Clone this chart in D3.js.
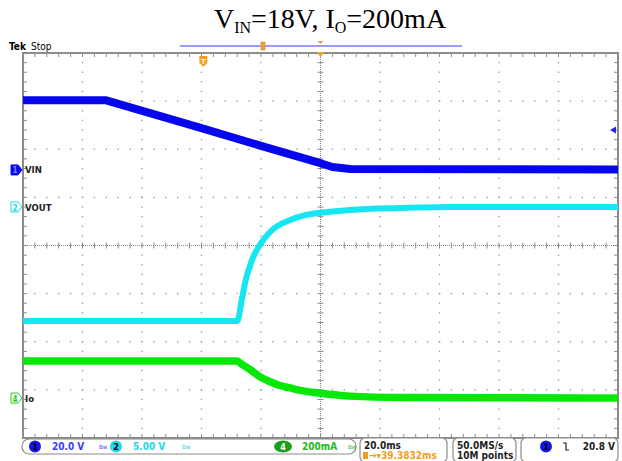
<!DOCTYPE html>
<html>
<head>
<meta charset="utf-8">
<script src="https://cdn.jsdelivr.net/npm/d3@7"></script>
<style>
  body { margin: 0; background: #fff; }
  svg { display: block; }
  text { font-family: "DejaVu Sans Condensed", "DejaVu Sans", sans-serif; }
</style>
</head>
<body>
<div class="scope"></div>
<script>
// time in ms (20 ms/div), level in screen divisions
const vinT  = [-100, -72.3, -40, -20, 0, 4, 10, 100];
const vinV  = [3.02, 3.02, 2.44, 2.07, 1.71, 1.63, 1.59, 1.58];
const voutT = [-100, -28.0, -26.5, -25.3, -23.0, -19.3, -16.3, -10.2, -5.2, 3.3, 10, 26.8, 43.6, 100];
const voutV = [-1.57, -1.57, -1.14, -0.76, -0.30, 0.11, 0.32, 0.53, 0.63, 0.70, 0.74, 0.78, 0.80, 0.80];
const ioT   = [-100, -28.0, -26.6, -23.6, -20.3, -16.9, -13.6, -10.2, -6.8, 0, 10, 26.8, 100];
const ioV   = [-2.40, -2.40, -2.46, -2.58, -2.73, -2.83, -2.91, -2.96, -3.01, -3.07, -3.13, -3.16, -3.17];

const channels = [
  {id: "1", name: "VIN",  level: 1.57,  color: "#0a0af0", filled: true},
  {id: "2", name: "VOUT", level: 0.80,  color: "#18d8e8", filled: false},
  {id: "4", name: "Io",   level: -3.17, color: "#22cc22", filled: false}
];
const trigLevel = 2.40;
const trigPos = -39.38;

const width = 622, height = 461;
const pLeft = 23, pRight = 618, pTop = 53, pBottom = 438;

const svg = d3.select('.scope')
  .append('svg')
  .attr('width', width)
  .attr('height', height);

const x = d3.scaleLinear().domain([-100, 100]).range([pLeft, pRight]);
const y = d3.scaleLinear().domain([-4, 4]).range([pBottom, pTop]);

// title
const title = svg.append('text')
  .attr('x', 330).attr('y', 28)
  .attr('text-anchor', 'middle')
  .style('font-family', '"Liberation Serif", serif')
  .attr('font-size', 28);
title.append('tspan').text('V');
title.append('tspan').attr('font-size', 16).attr('dy', 5).text('IN');
title.append('tspan').attr('dy', -5).text('=18V, I');
title.append('tspan').attr('font-size', 16).attr('dy', 5).text('O');
title.append('tspan').attr('dy', -5).text('=200mA');

// Tek Stop
svg.append('text').attr('x', 9).attr('y', 50).attr('font-size', 10)
  .attr('font-weight', 'bold').text('Tek');
svg.append('text').attr('x', 31).attr('y', 50).attr('font-size', 10).text('Stop');

// record bar
svg.append('line').attr('x1', 180).attr('x2', 462).attr('y1', 46).attr('y2', 46)
  .attr('stroke', '#7878ff').attr('stroke-width', 1.5);
svg.append('rect').attr('x', 261).attr('y', 42).attr('width', 4).attr('height', 8)
  .attr('fill', '#f0a030').attr('stroke', '#d08010').attr('stroke-width', 0.5);
svg.append('path').attr('d', `M${x(0)-3},41 L${x(0)+3},41 L${x(0)},44 Z`).attr('fill', '#f0a030');

// grid dots
const majorT = d3.range(-80, 81, 20).filter(d => d !== 0);
const majorV = d3.range(-3, 4, 1).filter(d => d !== 0);
const minorT = d3.range(-100, 100.1, 4);
const minorV = d3.range(-4, 4.01, 0.2);
const dots = [];
majorT.forEach(t => minorV.forEach(v => dots.push([t, v])));
majorV.forEach(v => minorT.forEach(t => dots.push([t, v])));
svg.append('g').selectAll('rect')
  .data(dots)
  .enter()
  .append('rect')
  .attr('x', d => x(d[0]) - 0.7)
  .attr('y', d => y(d[1]) - 0.7)
  .attr('width', 1.4).attr('height', 1.4)
  .attr('fill', '#a0a0a0');

// center cross
const cross = svg.append('g').attr('stroke', '#8a8a8a').attr('stroke-width', 1);
cross.append('line').attr('x1', x(0)).attr('x2', x(0)).attr('y1', pTop).attr('y2', pBottom)
  .attr('stroke-dasharray', '1,1');
cross.append('line').attr('x1', pLeft).attr('x2', pRight).attr('y1', y(0)).attr('y2', y(0))
  .attr('stroke-dasharray', '1,1');
cross.selectAll('line.cv').data(minorV).enter().append('line').attr('class', 'cv')
  .attr('x1', x(0) - 3).attr('x2', x(0) + 3).attr('y1', d => y(d)).attr('y2', d => y(d));
cross.selectAll('line.ch').data(minorT).enter().append('line').attr('class', 'ch')
  .attr('x1', d => x(d)).attr('x2', d => x(d)).attr('y1', y(0) - 3).attr('y2', y(0) + 3);

// border with ticks
const border = svg.append('g').attr('stroke', '#8c8c8c');
border.append('rect').attr('x', pLeft).attr('y', pTop)
  .attr('width', pRight - pLeft).attr('height', pBottom - pTop)
  .attr('fill', 'none').attr('stroke-width', 2);
border.selectAll('line.bt').data(minorT).enter().append('line').attr('class', 'bt')
  .attr('x1', d => x(d)).attr('x2', d => x(d)).attr('y1', pTop).attr('y2', pTop + 4);
border.selectAll('line.bb').data(minorT).enter().append('line').attr('class', 'bb')
  .attr('x1', d => x(d)).attr('x2', d => x(d)).attr('y1', pBottom).attr('y2', pBottom - 4);
border.selectAll('line.bl').data(minorV).enter().append('line').attr('class', 'bl')
  .attr('x1', pLeft).attr('x2', pLeft + 4).attr('y1', d => y(d)).attr('y2', d => y(d));
border.selectAll('line.br').data(minorV).enter().append('line').attr('class', 'br')
  .attr('x1', pRight).attr('x2', pRight - 4).attr('y1', d => y(d)).attr('y2', d => y(d));

// expansion marker on top border
svg.append('path').attr('d', `M${x(0)-4},${pTop-1} L${x(0)+4},${pTop-1} L${x(0)},${pTop+4} Z`)
  .attr('fill', '#f0a030');

// traces
const traces = [
  {t: vinT, v: vinV, color: '#0505ee', w: 8, curve: d3.curveLinear},
  {t: voutT, v: voutV, color: '#14e6f2', w: 6, curve: d3.curveMonotoneX},
  {t: ioT, v: ioV, color: '#08e808', w: 7.5, curve: d3.curveMonotoneX}
];
svg.append('g').selectAll('path')
  .data(traces)
  .enter()
  .append('path')
  .attr('d', d => d3.line().x(p => x(p[0])).y(p => y(p[1])).curve(d.curve)(d.t.map((t, i) => [t, d.v[i]])))
  .attr('fill', 'none')
  .attr('stroke', d => d.color)
  .attr('stroke-width', d => d.w)
  .attr('stroke-linejoin', 'round');

// trigger position marker
const tp = x(trigPos);
svg.append('path')
  .attr('d', `M${tp-4},56 L${tp+4},56 L${tp+4},63 L${tp},67 L${tp-4},63 Z`)
  .attr('fill', '#f5a020');
svg.append('text').attr('x', tp).attr('y', 63.5).attr('text-anchor', 'middle')
  .attr('font-size', 7).attr('font-weight', 'bold').attr('fill', '#fff').text('T');

// trigger level marker
svg.append('path')
  .attr('d', `M${pRight-8},${y(trigLevel)} L${pRight-2},${y(trigLevel)-3.5} L${pRight-2},${y(trigLevel)+3.5} Z`)
  .attr('fill', '#2020ff');

// channel markers
const cm = svg.append('g').selectAll('g')
  .data(channels)
  .enter()
  .append('g')
  .attr('transform', d => `translate(0,${y(d.level)})`);
cm.append('path')
  .attr('d', 'M11,-5 L18,-5 L22,0 L18,5 L11,5 Z')
  .attr('fill', d => d.filled ? d.color : '#fff')
  .attr('stroke', d => d.color).attr('stroke-width', 1);
cm.append('text').attr('x', 15).attr('y', 3.5).attr('text-anchor', 'middle')
  .attr('font-size', 8).attr('font-weight', 'bold')
  .attr('fill', d => d.filled ? '#8080ff' : d.color).text(d => d.id);
cm.append('text').attr('x', 25).attr('y', 3.5).attr('font-size', 9.5)
  .attr('font-weight', 'bold').attr('fill', '#222').text(d => d.name);

// bottom readouts
const ro = svg.append('g');
ro.append('rect').attr('x', 22).attr('y', 439).attr('width', 334).attr('height', 15)
  .attr('rx', 7).attr('fill', '#fff').attr('stroke', '#8c8c8c').attr('stroke-width', 1.2);
const readouts = [
  {id: '1', cx: 35, text: '20.0 V', tx: 52, bw: 99, color: '#3a3aff', fill: '#1515e8', tc: '#000', pill: false},
  {id: '2', cx: 116, text: '5.00 V', tx: 133, bw: 182, color: '#20d8e8', fill: '#20d8e8', tc: '#000', pill: false},
  {id: '4', cx: 283, text: '200mA', tx: 302, bw: 348, color: '#22b822', fill: '#1aa01a', tc: '#fff', pill: true}
];
const rg = ro.selectAll('g').data(readouts).enter().append('g');
rg.append('ellipse').attr('cx', d => d.cx).attr('cy', 446.5)
  .attr('rx', d => d.pill ? 9 : 6).attr('ry', 6).attr('fill', d => d.fill);
rg.append('text').attr('x', d => d.cx).attr('y', 450).attr('text-anchor', 'middle')
  .attr('font-size', 9).attr('font-weight', 'bold').attr('fill', d => d.tc).text(d => d.id);
rg.append('text').attr('x', d => d.tx).attr('y', 450).attr('font-size', 10)
  .attr('font-weight', 'bold').attr('fill', d => d.color).text(d => d.text);
rg.append('text').attr('x', d => d.bw).attr('y', 449).attr('font-size', 6)
  .attr('fill', d => d.color).text('Bw');

const boxes = [[360, 87], [453, 63], [521, 97]];
ro.selectAll('rect.box').data(boxes).enter().append('rect').attr('class', 'box')
  .attr('x', d => d[0]).attr('y', 438).attr('width', d => d[1]).attr('height', 24)
  .attr('rx', 5).attr('fill', '#fff').attr('stroke', '#8c8c8c').attr('stroke-width', 1.2);
ro.append('text').attr('x', 364).attr('y', 449).attr('font-size', 10).attr('font-weight', 'bold')
  .attr('fill', '#222').text('20.0ms');
ro.append('rect').attr('x', 363).attr('y', 452).attr('width', 5).attr('height', 7).attr('fill', '#f0a020');
ro.append('text').attr('x', 369).attr('y', 459).attr('font-size', 10).attr('font-weight', 'bold')
  .attr('fill', '#f0a020').text('\u2192\u25BE39.3832ms');
ro.append('text').attr('x', 457).attr('y', 449).attr('font-size', 10).attr('font-weight', 'bold')
  .attr('fill', '#222').text('50.0MS/s');
ro.append('text').attr('x', 457).attr('y', 459).attr('font-size', 10).attr('font-weight', 'bold')
  .attr('fill', '#222').text('10M points');
ro.append('circle').attr('cx', 546).attr('cy', 446.5).attr('r', 6).attr('fill', '#1515e8');
ro.append('text').attr('x', 546).attr('y', 450).attr('text-anchor', 'middle').attr('font-size', 9)
  .attr('font-weight', 'bold').attr('fill', '#000').text('1');
ro.append('path').attr('d', 'M563,443 L566,443 L566,450 L569,450').attr('fill', 'none')
  .attr('stroke', '#222').attr('stroke-width', 1.2);
ro.append('text').attr('x', 615).attr('y', 450).attr('text-anchor', 'end').attr('font-size', 10)
  .attr('font-weight', 'bold').attr('fill', '#222').text('20.8 V');
</script>
</body>
</html>
